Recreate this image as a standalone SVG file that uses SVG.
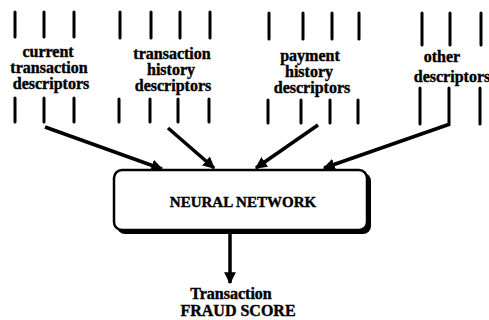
<svg xmlns="http://www.w3.org/2000/svg" width="489" height="320" viewBox="0 0 489 320">
<defs>
<marker id="ah" viewBox="0 0 10 10" refX="9" refY="5" markerWidth="3.4" markerHeight="3.4" orient="auto" markerUnits="strokeWidth">
<path d="M0,0 L10,5 L0,10 Z" fill="#000"/>
</marker>
<style>
.bar{stroke:#000;stroke-width:3;stroke-linecap:round}
.lbl{font-family:"Liberation Serif","Times New Roman",serif;font-weight:bold;font-size:16px;text-anchor:middle;fill:#000;stroke:#000;stroke-width:0.4}
.arr{stroke:#000;stroke-width:3.5;fill:none;marker-end:url(#ah)}
</style>
</defs>
<rect width="489" height="320" fill="#fff"/>
<g id="current">
<path class="bar" d="M15,12V37M44,12V37M74,12V37M15,98V122M44,98V122M74,98V122"/>
<text class="lbl" x="48" y="57">current</text>
<text class="lbl" x="49" y="73">transaction</text>
<text class="lbl" x="51" y="89">descriptors</text>
</g>
<g id="history">
<path class="bar" d="M120,12V38M151,12V38M180,12V38M210,12V38M119,99V122M150,99V122M178,99V122M209,99V122"/>
<text class="lbl" x="172" y="59">transaction</text>
<text class="lbl" x="171" y="75">history</text>
<text class="lbl" x="173" y="91">descriptors</text>
</g>
<g id="payment">
<path class="bar" d="M269,13V39M303,13V39M332,13V39M359,13V39M268,100V123M301,100V123M330,100V123M358,100V123"/>
<text class="lbl" x="310" y="61">payment</text>
<text class="lbl" x="309" y="77">history</text>
<text class="lbl" x="312" y="93">descriptors</text>
</g>
<g id="other">
<path class="bar" d="M422,13V45M450,13V45M481,13V45M420,88V124M449,88V124M480,88V124"/>
<text class="lbl" x="442" y="62">other</text>
<text class="lbl" x="452" y="82">descriptors</text>
</g>
<g id="connectors">
<path class="arr" d="M45,127L162,169"/>
<path class="arr" d="M168,128L214,168"/>
<path class="arr" d="M318,125L256,168"/>
<path class="arr" d="M450,124L324,168"/>
<path class="arr" d="M230,234V283"/>
</g>
<g id="nn">
<rect x="117" y="173" width="254" height="61" rx="8" fill="#000"/>
<rect x="114" y="170" width="253" height="60" rx="8" fill="#fff" stroke="#000" stroke-width="2.5"/>
<text class="lbl" x="243" y="207" style="font-size:15px">NEURAL NETWORK</text>
</g>
<g id="score">
<text class="lbl" x="231" y="299">Transaction</text>
<text class="lbl" x="238" y="316">FRAUD SCORE</text>
</g>
</svg>
